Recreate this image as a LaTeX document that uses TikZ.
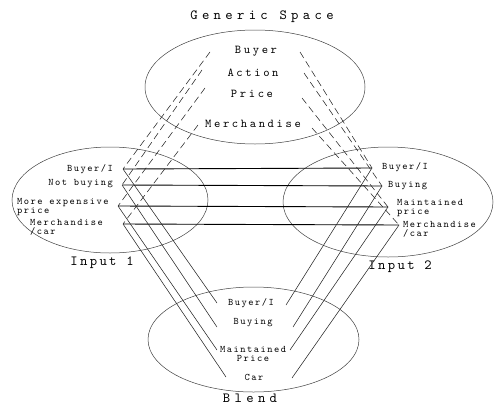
\documentclass[tikz,border=0pt]{standalone}
\usepackage{fontspec}
\usetikzlibrary{shapes.geometric}
\newfontfamily\lblfont[LetterSpace=15]{lmmono10-regular.otf}
\newfontfamily\genfont[LetterSpace=22]{lmmono10-regular.otf}
\newfontfamily\ttlfont[LetterSpace=31]{lmmono10-regular.otf}
\newfontfamily\inpfont[LetterSpace=17]{lmmono10-regular.otf}
\begin{document}
\begin{tikzpicture}[x=1pt,y=-1pt,
  spaceell/.style={draw=black!75, line width=0.5pt, ellipse, inner sep=0pt},
  lbl/.style={font=\lblfont\fontsize{10}{9}\selectfont, inner sep=0pt},
  gen/.style={font=\genfont\fontsize{12}{12}\selectfont, inner sep=0pt},
  ttl/.style={font=\ttlfont\fontsize{14}{14}\selectfont, inner sep=0pt},
  inp/.style={font=\inpfont\fontsize{14}{14}\selectfont, inner sep=0pt},
  maplink/.style={line width=0.55pt, black!85},
  hlink/.style={line width=0.9pt, black},
  dlink/.style={line width=0.55pt, black!85, dash pattern=on 7pt off 4pt}]
\useasboundingbox (0,0) rectangle (494,407);

% spaces
\node[spaceell, minimum width=220, minimum height=114] (G) at (255,87) {};
\node[spaceell, minimum width=196, minimum height=106] (I1) at (110,200) {};
\node[spaceell, minimum width=210, minimum height=110] (I2) at (388,202) {};
\node[spaceell, minimum width=211, minimum height=105] (B) at (253.5,339.5) {};

% titles
\node[ttl] (tG) at (262,17) {Generic Space};
\node[inp] (tI1) at (102,263) {Input 1};
\node[inp] (tI2) at (400,267) {Input 2};
\node[ttl] (tB) at (250,398) {Blend};

% generic labels
\node[gen] (gBuyer) at (256,51) {Buyer};
\node[gen] (gAction) at (253,73) {Action};
\node[gen] (gPrice) at (252,94) {Price};
\node[gen] (gMerch) at (253,124) {Merchandise};

% input 1 labels
\node[lbl, anchor=east] (i1Buyer) at (113,169) {Buyer/I};
\node[lbl, anchor=east] (i1Not) at (113,184) {Not buying};
\node[lbl, anchor=west, align=left] (i1Price) at (17,207) {More expensive\\price};
\node[lbl, anchor=west, align=left] (i1Merch) at (30,227) {Merchandise\\/car};

% input 2 labels
\node[lbl, anchor=west] (i2Buyer) at (382,167) {Buyer/I};
\node[lbl, anchor=west] (i2Buy) at (388,186) {Buying};
\node[lbl, anchor=west, align=left] (i2Price) at (397,208.5) {Maintained\\price};
\node[lbl, anchor=west, align=left] (i2Merch) at (403,229.5) {Merchandise\\/car};

% blend labels
\node[lbl] (bBuyer) at (251,303) {Buyer/I};
\node[lbl] (bBuy) at (253,323) {Buying};
\node[lbl, align=center] (bPrice) at (253,354) {Maintained\\Price};
\node[lbl] (bCar) at (254,377) {Car};

% connection points
\coordinate (a1) at (123,169);
\coordinate (a2) at (122,185);
\coordinate (a3) at (118,206);
\coordinate (a4) at (123,224);
\coordinate (b1) at (372,168);
\coordinate (b2) at (382,186);
\coordinate (b3) at (388,207);
\coordinate (b4) at (399,225);
\coordinate (cl1) at (217,303);
\coordinate (cl2) at (217,327);
\coordinate (cl3) at (217,350);
\coordinate (cl4) at (226,377);
\coordinate (cr1) at (286,305);
\coordinate (cr2) at (293,327);
\coordinate (cr3) at (290,350);
\coordinate (cr4) at (292,378);
\coordinate (gl1) at (210,52);
\coordinate (gl2) at (202,70);
\coordinate (gl3) at (205,88);
\coordinate (gl4) at (198,125);
\coordinate (gr1) at (300,52);
\coordinate (gr2) at (304,73);
\coordinate (gr3) at (302,98);
\coordinate (gr4) at (312,128);

% horizontal mappings input 1 - input 2
\draw[hlink] (a1) -- (b1);
\draw[hlink] (a2) -- (b2);
\draw[hlink] (a3) -- (b3);
\draw[hlink] (a4) -- (b4);

% generic to inputs (dashed)
\draw[dlink] (gl1) -- (a1);
\draw[dlink] (gl2) -- (a2);
\draw[dlink] (gl3) -- (a3);
\draw[dlink] (gl4) -- (a4);
\draw[dlink] (gr1) -- (b1);
\draw[dlink] (gr2) -- (b2);
\draw[dlink] (gr3) -- (b3);
\draw[dlink] (gr4) -- (b4);

% inputs to blend
\draw[maplink] (a1) -- (cl1);
\draw[maplink] (a2) -- (cl2);
\draw[maplink] (a3) -- (cl3);
\draw[maplink] (a4) -- (cl4);
\draw[maplink] (b1) -- (cr1);
\draw[maplink] (b2) -- (cr2);
\draw[maplink] (b3) -- (cr3);
\draw[maplink] (b4) -- (cr4);
\end{tikzpicture}
\end{document}
